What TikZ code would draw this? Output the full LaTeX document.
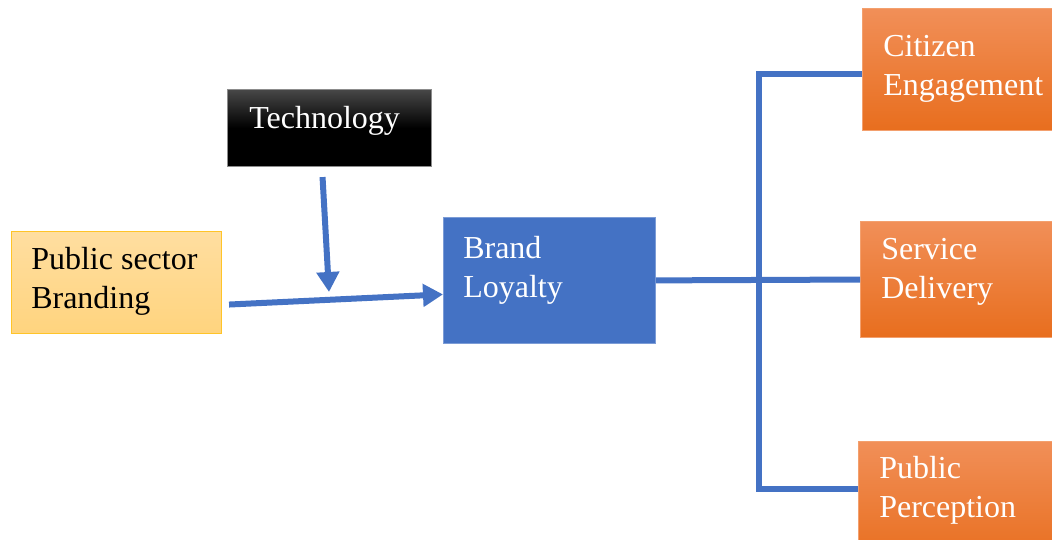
\documentclass[tikz,border=0pt]{standalone}
\usepackage{fontspec}
\setmainfont{Liberation Serif}
\usetikzlibrary{arrows.meta}

\definecolor{linkblue}{RGB}{68,114,196}
\definecolor{orangetop}{RGB}{241,143,88}
\definecolor{orangebot}{RGB}{232,110,30}
\definecolor{orangeline}{RGB}{243,160,110}
\definecolor{sandtop}{RGB}{255,222,160}
\definecolor{sandbot}{RGB}{255,212,126}
\definecolor{sandline}{RGB}{255,196,40}

\tikzset{
  box/.style={rectangle, inner sep=0pt, anchor=north west},
  orangebox/.style={box, top color=orangetop, bottom color=orangebot, draw=orangeline, line width=0.8pt},
  boxtext/.style={anchor=base west, align=left, inner sep=0pt, font=\fontsize{24}{29}\selectfont},
  link/.style={draw=linkblue, line width=4.5pt},
  linkarrow/.style={link, -{Triangle[length=15pt,width=16.5pt]}}
}

\begin{document}
\begin{tikzpicture}[x=0.75pt,y=-0.75pt]
	\useasboundingbox (0,0) rectangle (1052,539);

	% Kaesten
	\node[box, top color=black!72, bottom color=black, middle color=black, draw=black!45, line width=0.8pt,
	      minimum width=153pt, minimum height=57.75pt] (tech) at (227,89) {};
	\node[box, top color=sandtop, bottom color=sandbot, draw=sandline, line width=0.8pt,
	      minimum width=157.5pt, minimum height=76.5pt] (pub) at (11,231) {};
	\node[box, fill=linkblue, draw=linkblue!70!white, line width=0.6pt,
	      minimum width=159pt, minimum height=94.5pt] (bl) at (443,217) {};
	\node[orangebox, minimum width=150pt, minimum height=91.5pt] (cit) at (862,8) {};
	\node[orangebox, minimum width=150pt, minimum height=87pt] (svc) at (860,221) {};
	\node[orangebox, minimum width=150pt, minimum height=90pt] (perc) at (858,441) {};

	% Beschriftungen (Grundlinie der letzten Zeile)
	\node[boxtext, text=white] (techtxt) at (249,128) {Technology};
	\node[boxtext] (pubtxt) at (31,308) {Public sector\\Branding};
	\node[boxtext, text=white] (bltxt) at (463,297) {Brand\\Loyalty};
	\node[boxtext, text=white] (cittxt) at (883,95) {Citizen\\Engagement};
	\node[boxtext, text=white] (svctxt) at (881,298) {Service\\Delivery};
	\node[boxtext, text=white] (perctxt) at (879,517) {Public\\Perception};

	% Pfeile
	\coordinate (meet) at (329,292);
	\coordinate (fork) at (759,279);
	\draw[linkarrow] ([shift={(7,22)}]pub.east) -- ([shift={(0,14)}]bl.west);
	\draw[linkarrow] ([shift={(-7,10)}]tech.south) -- (meet);

	% Verzweigung
	\draw[link] (bl.east) -- (svc.west);
	\draw[link] ([shift={(0,4)}]cit.west) -| (fork) |- ([shift={(0,-13)}]perc.west);
\end{tikzpicture}
\end{document}
